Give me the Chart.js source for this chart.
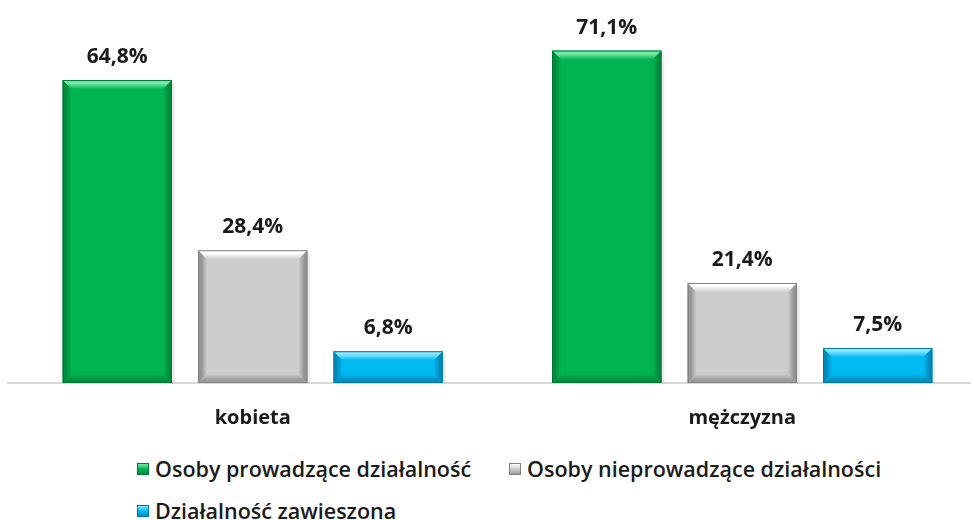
<!DOCTYPE html>
<html lang="pl">
<head>
    <meta charset="UTF-8">
    <title>Działalność wg płci</title>
    <style>
        * {
            margin: 0;
            padding: 0;
            box-sizing: border-box;
        }

        body {
            width: 971px;
            height: 520px;
            overflow: hidden;
            background: #fff;
            font-family: 'Open Sans', sans-serif;
            position: relative;
        }

        /* chart is a bit wider than the window, the plot runs off the right edge */
        .chart-box {
            position: absolute;
            left: 0;
            top: 0;
            width: 990px;
            height: 440px;
        }

        .legend-item {
            position: absolute;
            display: flex;
            align-items: center;
            font-size: 21.5px;
            font-weight: 600;
            color: #1a1a1a;
            white-space: nowrap;
        }

        .legend-item i {
            display: inline-block;
            width: 12px;
            height: 12px;
            margin-right: 6px;
        }
    </style>
    <script src="https://cdn.jsdelivr.net/npm/chart.js"></script>
</head>
<body>
    <div class="chart-box">
        <canvas id="chart"></canvas>
    </div>
    <div id="legend"></div>

    <script>
        // data
        const categories = ['kobieta', 'mężczyzna'];
        const seriesNames = ['Osoby prowadzące działalność', 'Osoby nieprowadzące działalności', 'Działalność zawieszona'];
        const prowadzace = [64.8, 71.1];
        const nieprowadzace = [28.4, 21.4];
        const zawieszona = [6.8, 7.5];

        // fill, top highlight, side shade, bottom shade, edge
        const palettes = [
            ['#00b550', '#7aeaaa', '#008a3d', '#008f40', '#007434'],
            ['#cdcdcd', '#ffffff', '#949494', '#9c9c9c', '#808080'],
            ['#00bbf2', '#8ae6ff', '#0089b9', '#008fc0', '#0078a3']
        ];

        const bevelPlugin = {
            id: 'bevel',
            afterDatasetsDraw(chart) {
                const ctx = chart.ctx;
                const b = 9;
                chart.data.datasets.forEach((ds, i) => {
                    const meta = chart.getDatasetMeta(i);
                    const p = palettes[i];
                    meta.data.forEach((bar, j) => {
                        const l = bar.x - bar.width / 2;
                        const r = bar.x + bar.width / 2;
                        const t = bar.y;
                        const btm = bar.base;
                        ctx.save();
                        // soft shadow on the right
                        ctx.fillStyle = 'rgba(0,0,0,0.08)';
                        ctx.fillRect(r, t + 3, 3, btm - t - 3);

                        const poly = (pts, x0, y0, x1, y1, c0) => {
                            const g = ctx.createLinearGradient(x0, y0, x1, y1);
                            g.addColorStop(0, c0);
                            g.addColorStop(0.35, c0);
                            g.addColorStop(1, p[0]);
                            ctx.beginPath();
                            ctx.moveTo(pts[0][0], pts[0][1]);
                            pts.slice(1).forEach(pt => ctx.lineTo(pt[0], pt[1]));
                            ctx.closePath();
                            ctx.fillStyle = g;
                            ctx.fill();
                        };
                        poly([[l, t], [l + b, t + b], [l + b, btm - b], [l, btm]], l, 0, l + b, 0, p[2]);
                        poly([[r, t], [r, btm], [r - b, btm - b], [r - b, t + b]], r, 0, r - b, 0, p[2]);
                        poly([[l, btm], [l + b, btm - b], [r - b, btm - b], [r, btm]], 0, btm, 0, btm - b, p[3]);
                        poly([[l, t], [r, t], [r - b, t + b], [l + b, t + b]], 0, t, 0, t + b, p[1]);

                        ctx.strokeStyle = p[4];
                        ctx.lineWidth = 1;
                        ctx.strokeRect(l + 0.5, t + 0.5, r - l - 1, btm - t - 1);

                        // value label
                        const v = ds.data[j];
                        ctx.fillStyle = '#1a1a1a';
                        ctx.font = 'bold 21px "Open Sans"';
                        ctx.textAlign = 'center';
                        ctx.textBaseline = 'middle';
                        ctx.fillText(v.toFixed(1).replace('.', ',') + '%', bar.x, t - 23);
                        ctx.restore();
                    });
                });
            }
        };

        const seriesData = [prowadzace, nieprowadzace, zawieszona];

        new Chart(document.getElementById('chart'), {
            type: 'bar',
            data: {
                labels: categories,
                datasets: seriesNames.map((name, i) => ({
                    label: name,
                    data: seriesData[i],
                    backgroundColor: palettes[i][0],
                    borderWidth: 0,
                    barPercentage: 0.807,
                    categoryPercentage: 0.83
                }))
            },
            options: {
                responsive: true,
                maintainAspectRatio: false,
                animation: false,
                layout: {
                    padding: { left: 8, right: 3, top: 9, bottom: 0 }
                },
                plugins: {
                    legend: { display: false },
                    tooltip: { enabled: false }
                },
                scales: {
                    x: {
                        grid: { display: false, drawTicks: false },
                        border: { display: true, color: '#d9d9d9', width: 2 },
                        ticks: {
                            color: '#1a1a1a',
                            padding: 23,
                            font: { family: 'Open Sans', size: 20, weight: 'bold' }
                        },
                        afterFit(scale) {
                            scale.height = 57;
                        }
                    },
                    y: {
                        display: false,
                        min: 0,
                        max: 80
                    }
                }
            },
            plugins: [bevelPlugin]
        });

        // legend laid out like the original: two items on the first row, one below
        const legendPos = [[137, 454], [509, 454], [137, 496]];
        const legend = document.getElementById('legend');
        seriesNames.forEach((name, i) => {
            const item = document.createElement('div');
            item.className = 'legend-item';
            item.style.left = legendPos[i][0] + 'px';
            item.style.top = legendPos[i][1] + 'px';
            const p = palettes[i];
            item.innerHTML = '<i style="background: linear-gradient(180deg, ' + p[1] + ', ' + p[0] + ' 50%, ' + p[3] + '); border: 1px solid ' + p[4] + '"></i>' + name;
            legend.appendChild(item);
        });
    </script>
</body>
</html>
